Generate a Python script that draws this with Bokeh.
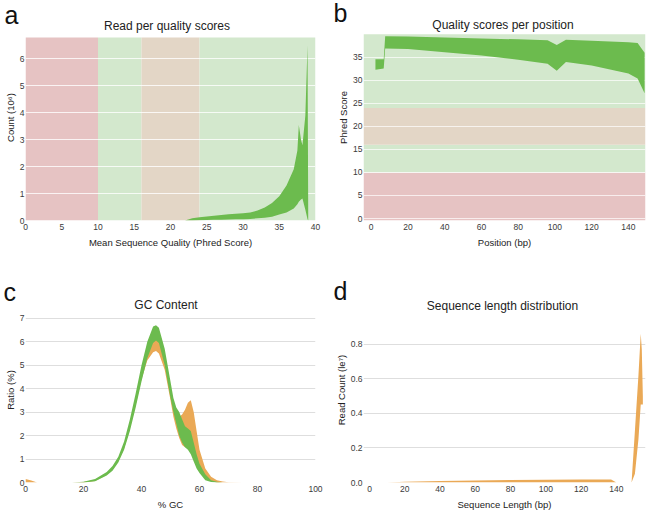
from bokeh.plotting import figure
from bokeh.layouts import gridplot
from bokeh.models import Label, FixedTicker, Range1d, PrintfTickFormatter, BoxAnnotation
from bokeh.embed import file_html
from bokeh.resources import INLINE

FONT = "Liberation Sans"
GREEN = "#6cbb4e"
ORANGE = "#eaa956"
BAND_RED = "#e6c3c3"
BAND_GREEN = "#d3e8cd"
BAND_ORANGE = "#e3d6c6"

# ---- thresholds for quality bands (Phred)
band_lo = [None, 10, 16, 24]
band_hi = [10, 16, 24, 40]
band_colors = [BAND_RED, BAND_GREEN, BAND_ORANGE, BAND_GREEN]

# ---- a: Read per quality scores (count, 10^6)
qual_x = [22, 23, 24, 25, 26, 27, 28, 29, 30, 31, 32, 33, 34, 35, 36, 37, 37.5, 37.7, 38.0, 38.2, 38.6, 38.9, 39.0]
qual_upper = [0, 0.08, 0.12, 0.15, 0.18, 0.2, 0.23, 0.25, 0.27, 0.3, 0.37, 0.48, 0.65, 0.9, 1.3, 1.9, 2.6, 3.55, 3.0, 2.8, 3.9, 6.5, 0]
qual_lower = [0, 0, 0.01, 0.02, 0.03, 0.03, 0.04, 0.05, 0.05, 0.06, 0.08, 0.1, 0.14, 0.22, 0.3, 0.45, 0.6, 0.7, 0.78, 0.82, 0.4, 0.05, 0]

# ---- b: Quality scores per position
pos_x = [2.3, 6.8, 7.6, 20, 40, 60, 80, 96, 101, 106, 120, 140, 145, 148.8]
pos_upper = [34.6, 34.6, 39.6, 39.5, 39.3, 39.1, 38.9, 38.7, 37.7, 38.8, 38.6, 38.3, 38.1, 36.0]
pos_lower = [32.3, 32.6, 36.9, 36.8, 36.1, 35.4, 34.5, 33.6, 32.1, 34.0, 33.2, 31.5, 30.4, 27.2]

# ---- c: GC content (%)
gc_x = [0, 2, 4, 10, 16, 20, 24, 28, 30, 32, 34, 36, 38, 40, 42, 44, 45, 46, 48, 50, 51, 52, 53, 54, 55, 56, 57, 58, 59, 60, 62, 64, 66, 68, 70, 75, 80, 100]
gc_green_upper = [0, 0, 0, 0, 0, 0.03, 0.15, 0.45, 0.7, 1.1, 1.75, 2.7, 3.8, 5.0, 6.0, 6.65, 6.7, 6.6, 5.7, 4.3, 3.6, 3.2, 3.0, 2.7, 2.4, 2.3, 2.2, 1.7, 1.2, 0.8, 0.35, 0.1, 0.03, 0, 0, 0, 0, 0]
gc_green_lower = [0, 0, 0, 0, 0, 0, 0.05, 0.3, 0.5, 0.85, 1.4, 2.2, 3.2, 4.3, 5.3, 5.95, 6.05, 5.95, 5.0, 3.6, 3.0, 2.5, 2.0, 1.7, 1.5, 1.4, 1.2, 0.9, 0.6, 0.4, 0.1, 0.02, 0, 0, 0, 0, 0, 0]
gc_orange_upper = [0.15, 0.08, 0, 0, 0, 0.02, 0.12, 0.4, 0.65, 1.0, 1.6, 2.5, 3.6, 4.7, 5.6, 6.2, 6.3, 6.2, 5.4, 4.0, 3.3, 2.9, 2.8, 2.9, 3.1, 3.4, 3.5, 3.0, 2.2, 1.4, 0.6, 0.25, 0.1, 0.04, 0.01, 0, 0, 0]
gc_orange_lower = [0, 0, 0, 0, 0, 0, 0.06, 0.32, 0.55, 0.9, 1.45, 2.3, 3.3, 4.4, 5.2, 5.55, 5.6, 5.5, 4.8, 3.5, 2.8, 2.3, 1.9, 1.6, 1.5, 1.5, 1.4, 1.1, 0.8, 0.5, 0.15, 0.05, 0, 0, 0, 0, 0, 0]

# ---- d: Sequence length distribution (1e7)
len_x = [10, 20, 40, 60, 80, 100, 120, 137, 140, 148.6, 150.5, 152.5, 153.8, 154.4, 155]
len_upper = [0, 0.004, 0.009, 0.012, 0.014, 0.016, 0.017, 0.017, 0, 0, 0.3, 0.62, 0.86, 0.77, 0.5]
len_lower = [0, 0, 0, 0, 0, 0, 0, 0, 0, 0, 0.05, 0.25, 0.45, 0.45, 0.45]


def make_panel(fig_x, fig_y, w, h, frame, xr, y0_data, y0_px, px_per_unit,
               title, title_cx, title_base, letter, letter_x, letter_base,
               xlabel, ylabel, xticks, yticks):
    """frame = (left, top, right, bottom) in page pixels."""
    fl, ft, fr, fb = frame
    bl, bt = fl - fig_x, ft - fig_y
    br, bb = fig_x + w - fr, fig_y + h - fb
    y_bot = y0_data - (fb - y0_px) / px_per_unit
    y_top = y0_data + (y0_px - ft) / px_per_unit
    p = figure(width=w, height=h, x_range=Range1d(*xr), y_range=Range1d(y_bot, y_top),
               output_backend="svg", toolbar_location=None, title=letter,
               min_border_left=bl, min_border_right=br, min_border_top=bt, min_border_bottom=bb)
    # panel letter, drawn as the figure title
    t = p.title
    t.text_font = FONT
    t.text_font_size = "25px"
    t.text_font_style = "normal"
    t.text_color = "#111111"
    t.align = "left"
    t.vertical_align = "bottom"
    t.offset = letter_x - fl
    box_bottom = letter_base + 5
    t.standoff = 2 * (ft - box_bottom)
    p.outline_line_color = None
    p.background_fill_color = "white"
    p.border_fill_color = "white"
    for ax in (p.xaxis[0], p.yaxis[0]):
        ax.axis_line_color = None
        ax.major_tick_line_color = None
        ax.minor_tick_line_color = None
        ax.major_tick_out = 0
        ax.major_tick_in = 0
        ax.minor_tick_out = 0
        ax.major_label_text_font = FONT
        ax.major_label_text_font_size = "8.5px"
        ax.major_label_text_color = "#3a3a3a"
        ax.axis_label_text_font = FONT
        ax.axis_label_text_font_size = "9.5px"
        ax.axis_label_text_font_style = "normal"
        ax.axis_label_text_color = "#222222"
    p.xaxis.major_label_standoff = 3
    p.xaxis.axis_label_standoff = 4
    p.yaxis.major_label_standoff = 1
    p.yaxis.axis_label_standoff = 1
    p.xaxis.axis_label = xlabel
    p.yaxis.axis_label = ylabel
    p.xaxis.ticker = FixedTicker(ticks=xticks)
    p.yaxis.ticker = FixedTicker(ticks=yticks)
    p.xgrid.grid_line_color = None
    frame_h = fb - ft
    p.add_layout(Label(x=title_cx - fl, y=frame_h - (title_base - ft), x_units="screen", y_units="screen",
                       text=title, text_font=FONT, text_font_size="12px", text_color="#222222",
                       text_align="center", text_baseline="alphabetic"))
    return p


TOP_H, BOT_H = 265, 247
LW, RW = 330, 329

# ---- a
pa = make_panel(0, 0, LW, TOP_H, (24, 13, 316, 220), (0, 40), 0, 220, 27.05,
                "Read per quality scores", 165.5, 25, "a", 3, 22,
                "Mean Sequence Quality (Phred Score)", "Count (10⁶)",
                list(range(0, 41, 5)), list(range(0, 7)))
for lo, hi, c in zip(band_lo, band_hi, band_colors):
    pa.add_layout(BoxAnnotation(left=0 if lo is None else lo, right=hi, top=6.8, fill_color=c,
                                fill_alpha=1, line_color=None, level="image"))
pa.ygrid.grid_line_color = "white"
pa.ygrid.grid_line_alpha = 0.8
pa.varea(x=qual_x, y1=qual_lower, y2=qual_upper, fill_color=GREEN)

# ---- b
pb = make_panel(330, 0, RW, TOP_H, (363, 14, 646, 222), (-4.2, 149.3), 0, 220, 4.65,
                "Quality scores per position", 502.5, 26, "b", 333, 21.5,
                "Position (bp)", "Phred Score", list(range(0, 141, 20)), list(range(0, 36, 5)))
for lo, hi, c in zip(band_lo, band_hi, band_colors):
    pb.add_layout(BoxAnnotation(bottom=lo, top=hi, fill_color=c, fill_alpha=1, line_color=None, level="image"))
pb.ygrid.grid_line_color = "white"
pb.ygrid.grid_line_alpha = 0.7
pb.varea(x=pos_x, y1=pos_lower, y2=pos_upper, fill_color=GREEN)

# ---- c
pc = make_panel(0, TOP_H, LW, BOT_H, (25, 294, 315, 484), (0, 100), 0, 484, 24.1,
                "GC Content", 165.5, 306.5, "c", 3, 297,
                "% GC", "Ratio (%)", list(range(0, 101, 20)), list(range(0, 8)))
pc.ygrid.grid_line_color = "#dedede"
pc.varea(x=gc_x, y1=gc_orange_lower, y2=gc_orange_upper, fill_color=ORANGE)
pc.varea(x=gc_x, y1=gc_green_lower, y2=gc_green_upper, fill_color=GREEN)

# ---- d
pd_ = make_panel(330, TOP_H, RW, BOT_H, (363, 297, 645, 485), (-3.4, 156.5), 0, 485, 175.9,
                 "Sequence length distribution", 502, 308, "d", 333, 299,
                 "Sequence Length (bp)", "Read Count (le⁷)", list(range(0, 141, 20)), [0, 0.2, 0.4, 0.6, 0.8])
pd_.yaxis.formatter = PrintfTickFormatter(format="%.1f")
pd_.ygrid.grid_line_color = "#dedede"
pd_.varea(x=len_x, y1=len_lower, y2=len_upper, fill_color=ORANGE)

grid = gridplot([[pa, pb], [pc, pd_]], toolbar_location=None)
open("out.html", "w").write(file_html(grid, INLINE))
